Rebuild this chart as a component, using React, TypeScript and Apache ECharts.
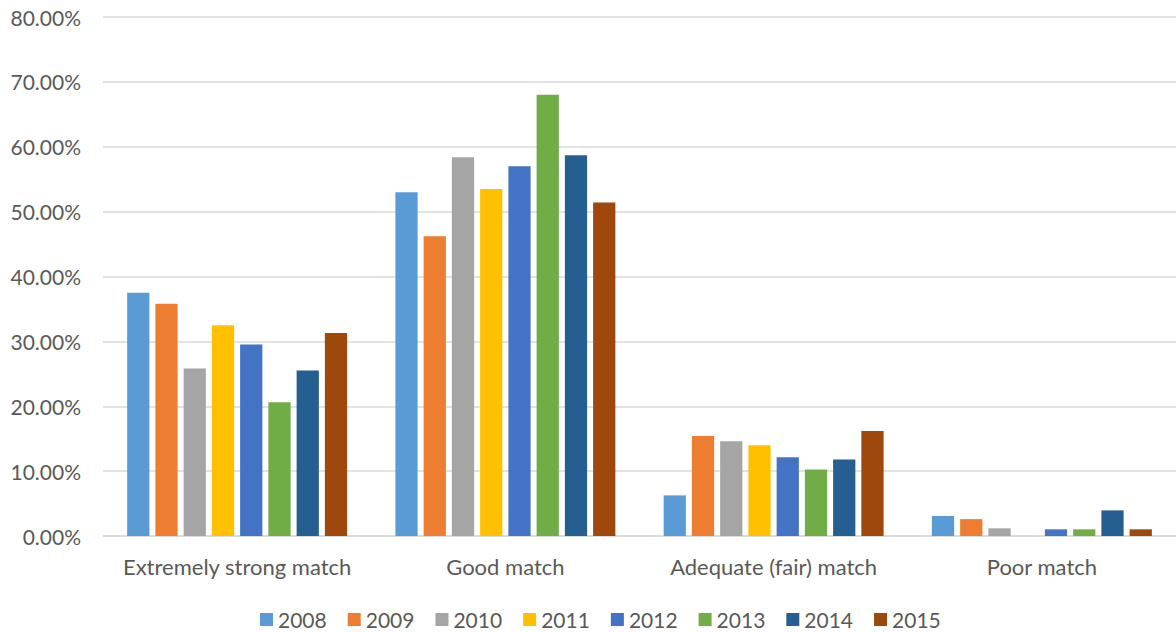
import React, { useEffect, useRef } from "react";
import * as echarts from "echarts";

const categories = [
  "Extremely strong match",
  "Good match",
  "Adequate (fair) match",
  "Poor match",
];

const years = ["2008", "2009", "2010", "2011", "2012", "2013", "2014", "2015"];

// Share of responses (%) per year, in category order
const v2008 = [37.5, 53.0, 6.26, 3.08];
const v2009 = [35.8, 46.2, 15.4, 2.6];
const v2010 = [25.8, 58.4, 14.6, 1.18];
const v2011 = [32.5, 53.5, 14.0, 0];
const v2012 = [29.5, 57.0, 12.15, 1.03];
const v2013 = [20.6, 68.0, 10.26, 1.03];
const v2014 = [25.5, 58.7, 11.8, 3.95];
const v2015 = [31.3, 51.4, 16.2, 1.03];

const seriesValues = [v2008, v2009, v2010, v2011, v2012, v2013, v2014, v2015];

const colors = [
  "#5B9BD5",
  "#ED7D31",
  "#A5A5A5",
  "#FFC000",
  "#4472C4",
  "#70AD47",
  "#255E91",
  "#9E480E",
];

const FONT = "Lato, 'Open Sans', sans-serif";
const TEXT = "#595959";

export default function App() {
  const ref = useRef<HTMLDivElement>(null);

  useEffect(() => {
    if (!ref.current) return;
    const chart = echarts.init(ref.current, undefined, { renderer: "svg" });
    chart.setOption({
      animation: false,
      color: colors,
      textStyle: { fontFamily: FONT },
      grid: { left: 103, right: 0, top: 17, bottom: 96, containLabel: false },
      legend: {
        data: years,
        top: 609,
        left: 260,
        padding: 0,
        itemWidth: 13,
        itemHeight: 13,
        itemGap: 21,
        icon: "rect",
        textStyle: {
          fontSize: 21,
          lineHeight: 21,
          color: TEXT,
          fontFamily: FONT,
        },
      },
      xAxis: {
        type: "category",
        data: categories,
        axisLine: { lineStyle: { color: "#D9D9D9", width: 1.5 } },
        axisTick: { show: false },
        axisLabel: {
          interval: 0,
          fontSize: 22,
          color: TEXT,
          margin: 19,
          fontFamily: FONT,
        },
      },
      yAxis: {
        type: "value",
        min: 0,
        max: 80,
        interval: 10,
        axisLine: { show: false },
        axisTick: { show: false },
        splitLine: { lineStyle: { color: "#D9D9D9", width: 1.5 } },
        axisLabel: {
          fontSize: 21,
          color: TEXT,
          margin: 22,
          fontFamily: FONT,
          formatter: (v: number) => v.toFixed(2) + "%",
        },
      },
      series: years.map((y, i) => ({
        name: y,
        type: "bar",
        data: seriesValues[i],
        barGap: "27%",
        barCategoryGap: "18%",
      })),
    });
    return () => chart.dispose();
  }, []);

  return (
    <div
      ref={ref}
      style={{ width: 1176, height: 632, position: "absolute", left: 0, top: 0 }}
    />
  );
}
